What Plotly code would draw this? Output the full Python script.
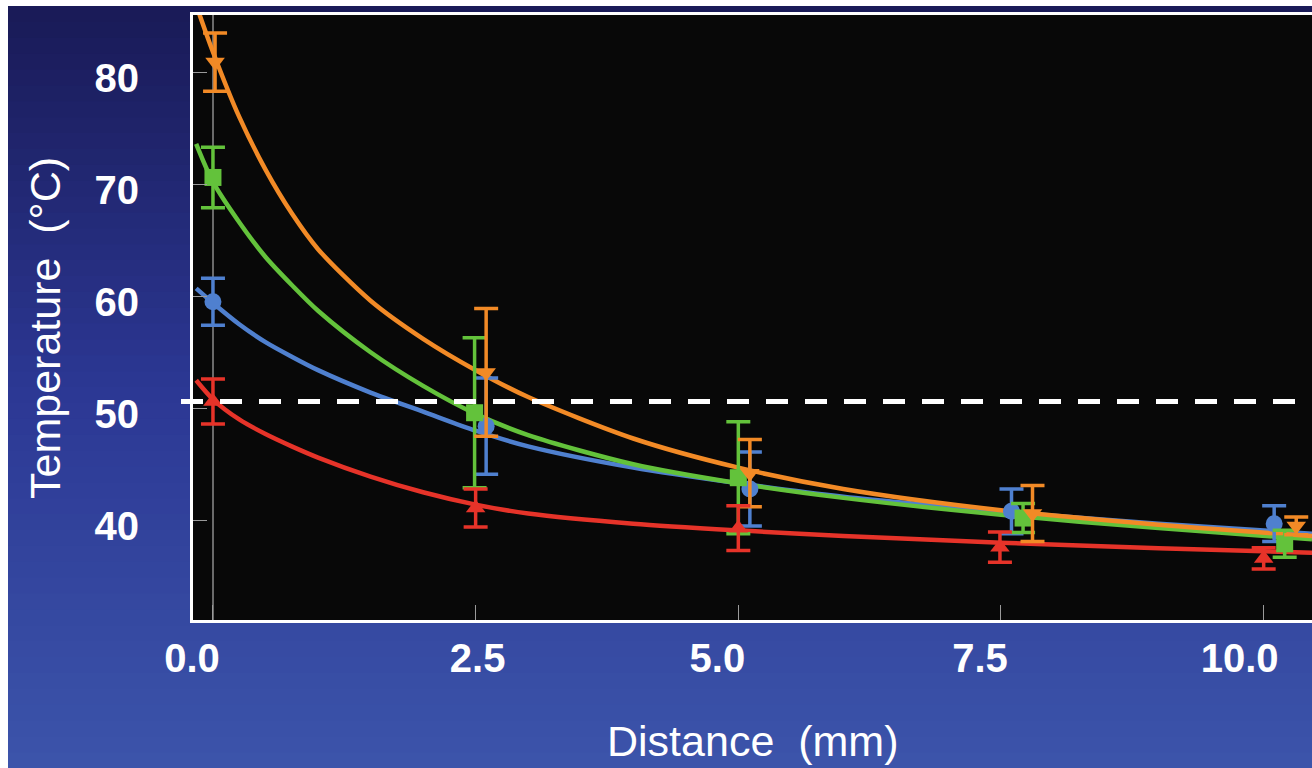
import plotly.graph_objects as go

# ---------------- data ----------------
# measured points (mean +/- error)
blue_x = [0.0, 2.60, 5.11, 7.60, 10.10]
blue_y = [59.5, 48.4, 42.8, 40.8, 39.7]
blue_err = [2.1, 4.3, 3.3, 2.0, 1.6]

green_x = [0.0, 2.49, 5.00, 7.71, 10.20]
green_y = [70.6, 49.6, 43.8, 40.2, 37.9]
green_err = [2.7, 6.7, 5.0, 1.3, 1.2]

orange_x = [0.02, 2.60, 5.11, 7.80, 10.31]
orange_y = [80.9, 53.2, 44.2, 40.6, 39.5]
orange_err = [2.6, 5.7, 3.0, 2.5, 0.8]

red_x = [0.0, 2.50, 5.00, 7.49, 10.00]
red_y = [50.6, 41.1, 39.3, 37.6, 36.6]
red_err = [2.0, 1.7, 2.0, 1.35, 0.95]

# fitted curves, values
fit_x = [-0.16, 0.0, 0.25, 0.5, 0.75, 1.0, 1.5, 2.0, 2.5, 3.0, 4.0, 5.0, 6.0, 7.5, 9.0, 10.46]
orange_fit_y = [86.0, 81.8, 76.0, 71.3, 67.4, 64.2, 59.6, 56.2, 53.4, 51.0, 47.3, 44.7, 42.8, 40.9, 39.6, 38.6]
green_fit_y = [73.6, 70.2, 66.6, 63.5, 61.0, 58.7, 55.0, 52.0, 49.5, 47.6, 45.0, 43.3, 42.0, 40.5, 39.3, 38.3]
blue_fit_y = [60.7, 59.4, 57.5, 55.9, 54.6, 53.4, 51.4, 49.7, 48.0, 46.6, 44.7, 43.3, 42.1, 40.8, 39.7, 38.8]
red_fit_y = [52.5, 50.8, 49.0, 47.7, 46.6, 45.6, 43.9, 42.5, 41.4, 40.6, 39.7, 39.1, 38.6, 38.0, 37.5, 37.1]

threshold = 50.6

x_ticks = [0.0, 2.5, 5.0, 7.5, 10.0]
x_ticklabels = ["0.0", "2.5", "5.0", "7.5", "10.0"]
y_ticks = [40, 50, 60, 70, 80]
y_ticklabels = ["40", "50", "60", "70", "80"]

x_title = "Distance  (mm)"
y_title = "Temperature  (°C)"

# ---------------- styling ----------------
W, H = 1312, 768
L, R, T, B = 193, 0, 15, 148
PW, PH = W - L - R, H - T - B
X_RANGE = [-0.19, 10.46]
Y_RANGE = [31.1, 85.1]
PX_PER_X = PW / (X_RANGE[1] - X_RANGE[0])
# extra horizontal offsets (px) of single x tick labels (on top of a common shift)
label_extra_px = [0, 23, 0, 0, -3]

def px2paper_x(px):
    return (px - L) / PW

def px2paper_y(py):
    return (H - B - py) / PH

C_BLUE = "#4f80cf"
C_GREEN = "#63c23b"
C_ORANGE = "#f28a26"
C_RED = "#e63329"

series = [
    ("blue", blue_x, blue_y, blue_err, blue_fit_y, C_BLUE, "circle"),
    ("green", green_x, green_y, green_err, green_fit_y, C_GREEN, "square"),
    ("orange", orange_x, orange_y, orange_err, orange_fit_y, C_ORANGE, "triangle-down"),
    ("red", red_x, red_y, red_err, red_fit_y, C_RED, "triangle-up"),
]

fig = go.Figure()

for name, xs, ys, es, fy, col, sym in series:
    fig.add_trace(go.Scatter(
        x=fit_x, y=fy, mode="lines",
        line=dict(color=col, width=4.5, shape="spline", smoothing=0.8),
        hoverinfo="skip", showlegend=False))

for name, xs, ys, es, fy, col, sym in series:
    fig.add_trace(go.Scatter(
        x=xs, y=ys, mode="markers",
        marker=dict(color=col, symbol=sym, size=17, line=dict(width=0)),
        error_y=dict(type="data", array=es, visible=True, color=col, thickness=3.5, width=12),
        showlegend=False, name=name, cliponaxis=False))

# invisible trace carrying the secondary axis used for the tick labels
fig.add_trace(go.Scatter(x=[None], y=[None], xaxis="x2", yaxis="y", showlegend=False, hoverinfo="skip"))

# background gradient (navy at the top to blue at the bottom)
shapes = []
top_c = (26, 27, 88)
mid_c = (44, 56, 148)
bot_c = (60, 84, 170)
n = 48
y0px, y1px = 6, H
for i in range(n):
    t = i / (n - 1)
    if t < 0.5:
        k = t / 0.5
        c = tuple(int(top_c[j] + (mid_c[j] - top_c[j]) * k) for j in range(3))
    else:
        k = (t - 0.5) / 0.5
        c = tuple(int(mid_c[j] + (bot_c[j] - mid_c[j]) * k) for j in range(3))
    ya = y0px + (y1px - y0px) * i / n
    yb = y0px + (y1px - y0px) * (i + 1) / n + 1
    shapes.append(dict(type="rect", xref="paper", yref="paper",
                       x0=px2paper_x(8), x1=px2paper_x(W + 2),
                       y0=px2paper_y(yb), y1=px2paper_y(ya),
                       fillcolor="rgb(%d,%d,%d)" % c, line=dict(width=0), layer="below"))
# plot area
shapes.append(dict(type="rect", xref="paper", yref="paper", x0=0, x1=1, y0=0, y1=1,
                   fillcolor="#080808", line=dict(width=0), layer="below"))
# threshold dashed line
shapes.append(dict(type="line", xref="paper", yref="y", x0=px2paper_x(181), x1=1,
                   y0=threshold, y1=threshold,
                   line=dict(color="white", width=5, dash="22px,17px"), layer="above"))

tick_font = dict(family="Liberation Sans, Arial, sans-serif", size=40, color="white", weight="bold")
title_font = dict(family="Liberation Sans, Arial, sans-serif", size=43, color="white")

fig.update_layout(
    width=W, height=H,
    margin=dict(l=L, r=R, t=T, b=B, pad=0),
    paper_bgcolor="white",
    plot_bgcolor="#080808",
    shapes=shapes,
    showlegend=False,
    xaxis=dict(
        range=X_RANGE, tickvals=x_ticks, showticklabels=False,
        showgrid=False, zeroline=True, zerolinecolor="#6a6a6a", zerolinewidth=2,
        showline=True, linecolor="white", linewidth=3, mirror=True,
        ticks="inside", ticklen=15, tickcolor="#9a9a9a", tickwidth=1,
    ),
    xaxis2=dict(
        range=X_RANGE, overlaying="x", side="bottom", anchor="y",
        tickvals=[v + s / PX_PER_X for v, s in zip(x_ticks, label_extra_px)],
        ticktext=x_ticklabels, ticks="", showgrid=False, zeroline=False, showline=False,
        tickfont=tick_font, ticklabelstandoff=11, ticklabelshift=-21,
    ),
    yaxis=dict(
        range=Y_RANGE, tickvals=y_ticks, ticktext=y_ticklabels,
        showgrid=False, zeroline=False,
        showline=True, linecolor="white", linewidth=3, mirror=False,
        ticks="inside", ticklen=14, tickcolor="#9a9a9a", tickwidth=1,
        tickfont=tick_font, ticklabelstandoff=43, ticklabelshift=6,
    ),
    annotations=[
        dict(text=y_title, xref="paper", yref="paper", x=px2paper_x(45), y=px2paper_y(328),
             showarrow=False, textangle=-90, xanchor="center", yanchor="middle",
             font=title_font),
        dict(text=x_title, xref="paper", yref="paper", x=px2paper_x(752), y=px2paper_y(741),
             showarrow=False, xanchor="center", yanchor="middle",
             font=title_font),
    ],
)

fig.write_html("out.html")
